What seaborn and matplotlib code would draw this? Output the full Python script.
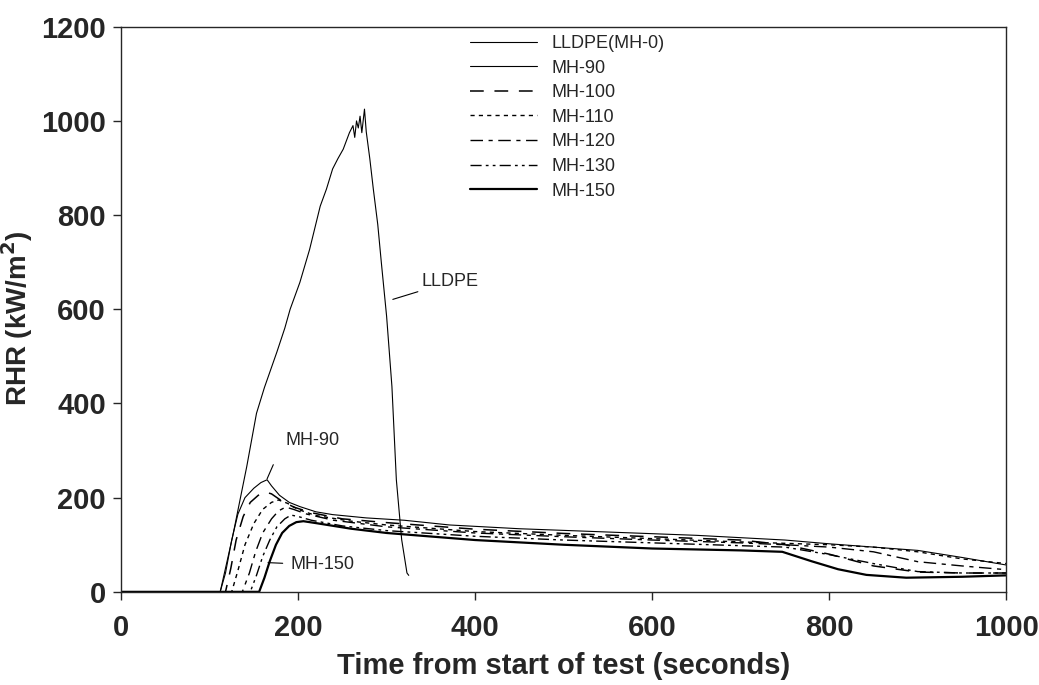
import matplotlib
matplotlib.use("Agg")
import matplotlib.pyplot as plt
import seaborn as sns

# RHR curves (time s, RHR kW/m2)
t_lldpe = [0, 112, 126, 142, 153, 162, 176, 185, 191, 202, 213, 225, 232, 239, 245, 251,
           255, 258, 262, 264, 266, 268, 270, 272, 275, 277, 281, 285, 290, 294, 300,
           306, 311, 317, 323, 325]
rhr_lldpe = [0, 0, 117, 266, 379, 434, 509, 560, 600, 657, 727, 819, 855, 898, 920, 940,
             960, 975, 990, 965, 1000, 985, 1010, 975, 1025, 977, 920, 855, 780, 700, 585,
             436, 238, 111, 40, 35]

t_mh90 = [0, 112, 118, 125, 132, 140, 150, 158, 165, 170, 179, 190, 202, 220, 239, 277,
          320, 371, 450, 550, 650, 750, 800, 850, 900, 950, 1000]
rhr_mh90 = [0, 0, 40, 110, 165, 200, 220, 232, 238, 225, 205, 190, 181, 170, 164, 157,
            152, 142, 134, 127, 120, 110, 102, 95, 88, 73, 57]

t_mh100 = [0, 118, 124, 130, 138, 146, 155, 163, 170, 180, 195, 215, 250, 300, 400, 500,
           600, 700, 750, 800, 850, 900, 950, 1000]
rhr_mh100 = [0, 0, 50, 110, 160, 190, 205, 212, 208, 195, 180, 168, 155, 147, 133, 124,
             117, 110, 100, 80, 55, 42, 40, 40]

t_mh110 = [0, 125, 132, 140, 150, 160, 170, 178, 188, 200, 220, 260, 300, 400, 500, 600,
           700, 800, 850, 900, 950, 1000]
rhr_mh110 = [0, 0, 45, 100, 145, 175, 190, 195, 188, 175, 162, 150, 142, 128, 120, 113,
             106, 100, 95, 85, 70, 60]

t_mh120 = [0, 137, 145, 152, 160, 170, 178, 186, 195, 210, 240, 300, 400, 500, 600, 700,
           750, 800, 850, 900, 950, 1000]
rhr_mh120 = [0, 0, 40, 85, 125, 155, 172, 180, 175, 165, 152, 138, 125, 117, 110, 104,
             100, 95, 85, 64, 55, 47]

t_mh130 = [0, 146, 153, 160, 168, 176, 185, 192, 200, 215, 250, 300, 400, 500, 600, 700,
           750, 800, 850, 900, 950, 1000]
rhr_mh130 = [0, 0, 35, 75, 110, 138, 155, 163, 160, 152, 140, 130, 118, 110, 104, 98,
             95, 79, 60, 43, 40, 40]

t_mh150 = [0, 156, 162, 168, 175, 182, 190, 198, 206, 220, 260, 300, 400, 500, 600, 700,
           747, 780, 810, 842, 887, 950, 1000]
rhr_mh150 = [0, 0, 30, 65, 100, 125, 140, 148, 150, 146, 134, 125, 110, 100, 92, 88,
             85, 65, 48, 36, 30, 32, 35]

labels = ["LLDPE(MH-0)", "MH-90", "MH-100", "MH-110", "MH-120", "MH-130", "MH-150"]

sns.set_style("ticks")
plt.rcParams["font.family"] = ["Liberation Sans", "DejaVu Sans"]
narrow = ["Liberation Sans Narrow", "Liberation Sans", "DejaVu Sans"]

fig = plt.figure(figsize=(10.39, 6.85), dpi=100)
ax = fig.add_axes([0.1165, 0.136, 0.852, 0.825])

series = [
    (t_lldpe, rhr_lldpe, "-", 0.8),
    (t_mh90, rhr_mh90, "-", 0.8),
    (t_mh100, rhr_mh100, (0, (9, 7)), 1.1),
    (t_mh110, rhr_mh110, (0, (3, 3)), 1.0),
    (t_mh120, rhr_mh120, (0, (9, 4, 3, 4)), 1.0),
    (t_mh130, rhr_mh130, (0, (8, 3, 2, 3, 2, 3)), 1.0),
    (t_mh150, rhr_mh150, "-", 1.6),
]
for (t, r, ls, lw), lab in zip(series, labels):
    sns.lineplot(x=t, y=r, ax=ax, color="black", linestyle=ls, linewidth=lw,
                 label=lab, sort=False)

ax.set_xlim(0, 1000)
ax.set_ylim(0, 1200)
ax.set_xticks([0, 200, 400, 600, 800, 1000])
ax.set_yticks([0, 200, 400, 600, 800, 1000, 1200])
ax.tick_params(axis="both", direction="out", length=6, width=1, labelsize=21)
ax.tick_params(axis="x", pad=10)
ax.tick_params(axis="y", pad=5)
for lbl in ax.get_xticklabels() + ax.get_yticklabels():
    lbl.set_fontweight("bold")
for sp in ax.spines.values():
    sp.set_linewidth(1.0)

ax.set_xlabel("Time from start of test (seconds)", fontsize=21, fontweight="bold", labelpad=7)
ax.set_ylabel("RHR (kW/m$^\\mathbf{2}$)", fontsize=20, fontweight="bold")
ax.yaxis.set_label_coords(-0.097, 0.485)

leg = ax.legend(loc="upper left", bbox_to_anchor=(0.376, 1.014), frameon=False,
                handlelength=3.7, handletextpad=0.8, labelspacing=0.42,
                prop={"family": narrow, "size": 13})

ax.annotate("LLDPE", xy=(307, 621), xytext=(339, 658), fontsize=13, family=narrow,
            ha="left", va="center",
            arrowprops=dict(arrowstyle="-", color="black", lw=0.8, shrinkA=0, shrinkB=0))
ax.text(216, 321, "MH-90", fontsize=13, family=narrow, ha="center", va="center")
ax.annotate("", xy=(165, 240), xytext=(172, 270),
            arrowprops=dict(arrowstyle="-", color="black", lw=0.8, shrinkA=0, shrinkB=0))
ax.annotate("MH-150", xy=(166, 62), xytext=(191, 57), fontsize=13, family=narrow,
            ha="left", va="center",
            arrowprops=dict(arrowstyle="-", color="black", lw=0.8, shrinkA=3, shrinkB=0))

fig.savefig("out.png", dpi=100)
